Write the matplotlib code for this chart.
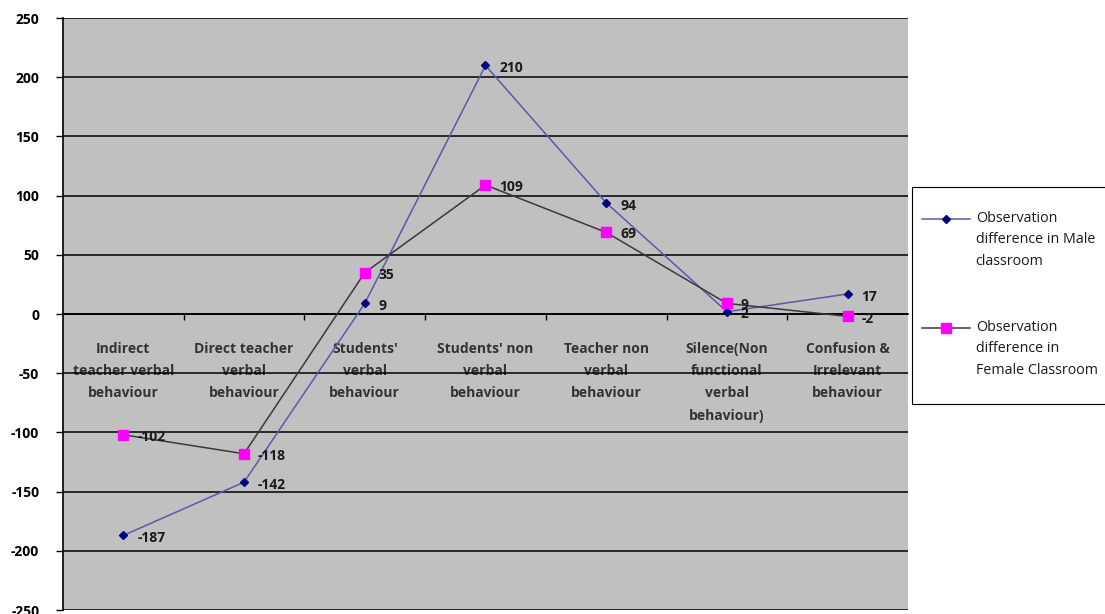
import matplotlib.pyplot as plt
from matplotlib.lines import Line2D
from matplotlib.patches import Rectangle

# behaviour categories on the x axis
categories = [
    "Indirect\nteacher verbal\nbehaviour",
    "Direct teacher\nverbal\nbehaviour",
    "Students'\nverbal\nbehaviour",
    "Students' non\nverbal\nbehaviour",
    "Teacher non\nverbal\nbehaviour",
    "Silence(Non\nfunctional\nverbal\nbehaviour)",
    "Confusion &\nIrrelevant\nbehaviour",
]
male_diff = [-187, -142, 9, 210, 94, 2, 17]
female_diff = [-102, -118, 35, 109, 69, 9, -2]
male_label = "Observation\ndifference in Male\nclassroom"
female_label = "Observation\ndifference in\nFemale Classroom"
y_ticks = list(range(-250, 251, 50))

plt.rcParams['font.family'] = ['Open Sans', 'DejaVu Sans']

fig = plt.figure(figsize=(11.05, 6.14), dpi=100)
ax = fig.add_axes([0.057, 0.0065, 0.7647, 0.964])
ax.set_facecolor('#C0C0C0')

x = list(range(len(categories)))
male_color = '#000080'
male_line = '#5A5AA8'
female_line = '#3A3A3A'
female_marker = '#FF00FF'

ax.plot(x, male_diff, color=male_line, lw=1.1, marker='D', ms=4.5,
        mfc=male_color, mec=male_color, zorder=4)
ax.plot(x, female_diff, color=female_line, lw=1.1, marker='s', ms=6.5,
        mfc=female_marker, mec=female_marker, zorder=5)

# value labels to the right of each point
for xi, v in zip(x, male_diff):
    ax.annotate(str(v), (xi, v), xytext=(10, -2), textcoords='offset points',
                ha='left', va='center', fontsize=10, fontweight='bold',
                color='#1a1a1a', zorder=6)
for xi, v in zip(x, female_diff):
    ax.annotate(str(v), (xi, v), xytext=(10, -1.5), textcoords='offset points',
                ha='left', va='center', fontsize=10, fontweight='bold',
                color='#1a1a1a', zorder=6)

ax.set_xlim(-0.5, len(categories) - 0.5)
ax.set_ylim(-250, 250)
ax.set_yticks(y_ticks)
ax.set_yticklabels([str(t) for t in y_ticks], fontsize=10, fontweight='bold')
ax.tick_params(axis='y', direction='out', length=5, width=1, pad=12, colors='black')
ax.yaxis.grid(True, color='black', lw=1.1)
ax.set_axisbelow(True)

# x axis runs along the zero line, category names under it
ax.spines['bottom'].set_position(('data', 0))
ax.spines['bottom'].set_linewidth(1.2)
ax.spines['top'].set_visible(False)
ax.spines['right'].set_visible(False)
ax.spines['left'].set_linewidth(1.2)
ax.set_xticks([i + 0.5 for i in x[:-1]])
ax.set_xticklabels([])
ax.tick_params(axis='x', direction='out', length=4, width=1)
ax.set_xticks(x, minor=True)
ax.set_xticklabels(categories, minor=True, fontsize=10, fontweight='bold',
                   color='#333333', linespacing=1.75, va='top')
ax.tick_params(axis='x', which='minor', length=0, pad=20)

# legend box at the right
fig.add_artist(Rectangle((0.8255, 0.342), 0.2, 0.354, transform=fig.transFigure,
                         facecolor='white', edgecolor='black', lw=0.8))
fig.add_artist(Line2D([0.834, 0.856, 0.878], [0.643] * 3, transform=fig.transFigure,
                      color=male_line, lw=1.1, marker='D', ms=4.5,
                      mfc=male_color, mec=male_color, markevery=[1]))
fig.add_artist(Line2D([0.834, 0.856, 0.878], [0.465] * 3, transform=fig.transFigure,
                      color=female_line, lw=1.1, marker='s', ms=6.5,
                      mfc=female_marker, mec=female_marker, markevery=[1]))
fig.text(0.883, 0.657, male_label, ha='left', va='top', fontsize=10.3,
         color='#1a1a1a', linespacing=1.6)
fig.text(0.883, 0.479, female_label, ha='left', va='top', fontsize=10.3,
         color='#1a1a1a', linespacing=1.6)

fig.savefig('out.png', dpi=100)
